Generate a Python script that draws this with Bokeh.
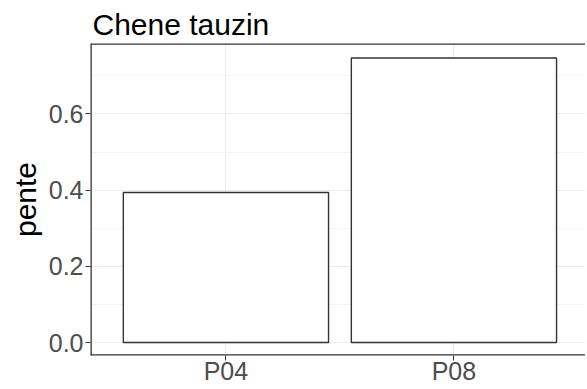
from bokeh.plotting import figure
from bokeh.models import FixedTicker, SingleIntervalTicker, Range1d, PrintfTickFormatter, Span
from bokeh.embed import file_html
from bokeh.resources import INLINE

title_text = "Chene tauzin"
categories = ["P04", "P08"]
pente = [0.394, 0.747]
y_label = "pente"

idx = list(range(len(categories)))
FONT = "Liberation Sans"
BORDER = "#333333"

p = figure(width=585, height=387, output_backend="svg", toolbar_location=None,
           x_range=Range1d(-0.594, 1.577), y_range=Range1d(-0.034, 0.785),
           min_border_left=90, min_border_right=0, min_border_top=43, min_border_bottom=0)

p.title.text = title_text
p.title.text_font = FONT
p.title.text_font_size = "30px"
p.title.text_font_style = "normal"
p.title.text_color = "black"
p.title.align = "left"
p.title.offset = 2
p.title.standoff = 5

p.vbar(x=idx, top=pente, bottom=0, width=0.9, fill_color="white",
       line_color=BORDER, line_width=1.4)

p.background_fill_color = "white"
p.border_fill_color = "white"
# panel border: the panel runs past the right edge of the picture, so only
# the left, top and bottom sides are drawn
p.outline_line_color = None
for loc, dim in [(p.y_range.start, "width"), (p.y_range.end, "width"), (p.x_range.start, "height")]:
    p.add_layout(Span(location=loc, dimension=dim, line_color=BORDER, line_width=2.6))

# x axis
p.xaxis.ticker = FixedTicker(ticks=idx)
p.xaxis.major_label_overrides = {i: c for i, c in zip(idx, categories)}
p.xaxis.major_label_text_font = FONT
p.xaxis.major_label_text_font_size = "25px"
p.xaxis.major_label_text_color = "#4D4D4D"
p.xaxis.axis_line_color = None
p.xaxis.major_tick_line_color = BORDER
p.xaxis.major_tick_out = 5
p.xaxis.major_tick_in = 0
p.xaxis.minor_tick_line_color = None
p.xaxis.major_label_standoff = -4

# y axis
p.yaxis.ticker = SingleIntervalTicker(interval=0.2, num_minor_ticks=2)
p.yaxis.formatter = PrintfTickFormatter(format="%.1f")
p.yaxis.major_label_text_font = FONT
p.yaxis.major_label_text_font_size = "25px"
p.yaxis.major_label_text_color = "#4D4D4D"
p.yaxis.axis_line_color = None
p.yaxis.major_tick_line_color = BORDER
p.yaxis.major_tick_out = 5
p.yaxis.major_tick_in = 0
p.yaxis.minor_tick_line_color = None
p.yaxis.major_label_standoff = 2
p.yaxis.axis_label = y_label
p.yaxis.axis_label_text_font = FONT
p.yaxis.axis_label_text_font_size = "30px"
p.yaxis.axis_label_text_font_style = "normal"
p.yaxis.axis_label_text_color = "black"
p.yaxis.axis_label_standoff = 4

# grids
p.xgrid.ticker = FixedTicker(ticks=idx)
p.xgrid.grid_line_color = "#EBEBEB"
p.ygrid.grid_line_color = "#EBEBEB"
p.ygrid.minor_grid_line_color = "#F3F3F3"
p.ygrid.level = "underlay"
p.xgrid.level = "underlay"

open("out.html", "w").write(file_html(p, INLINE))
